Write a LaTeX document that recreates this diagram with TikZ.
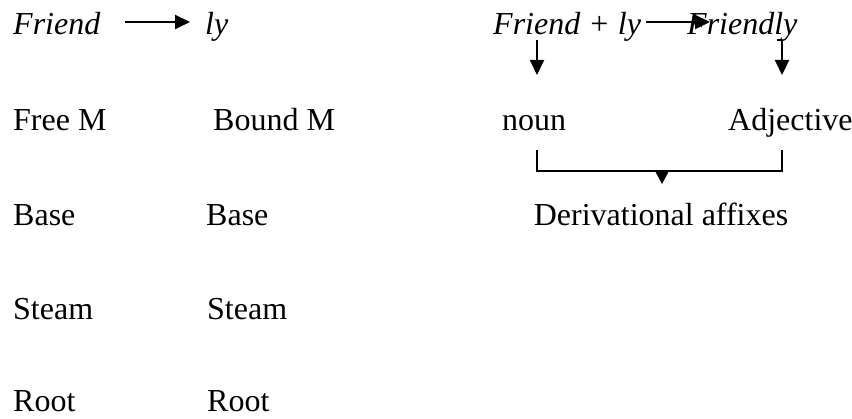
\documentclass[tikz,border=0pt]{standalone}
\usepackage{fontspec}
\setmainfont{Liberation Serif}
\usetikzlibrary{arrows.meta}
\begin{document}
\begin{tikzpicture}[x=1pt,y=-1pt,
  txt/.style={inner sep=0pt,anchor=base west,font=\fontsize{32}{38}\selectfont},
  arr/.style={line width=2pt,-{Triangle[length=15pt,width=14pt]}},
  brk/.style={line width=1.6pt}]
\useasboundingbox (0,0) rectangle (852,419);
% left block
\node[txt] (friend) at (13,35) {\itshape Friend};
\node[txt] (ly) at (205,35) {\itshape ly};
\node[txt] (freem) at (13,131) {Free M};
\node[txt] (boundm) at (213,131) {Bound M};
\node[txt] (baseA) at (13,226) {Base};
\node[txt] (baseB) at (206,226) {Base};
\node[txt] (steamA) at (13,320) {Steam};
\node[txt] (steamB) at (207,320) {Steam};
\node[txt] (rootA) at (13,412) {Root};
\node[txt] (rootB) at (207,412) {Root};
% right block
\node[txt] (fpl) at (493,35) {\itshape Friend + ly};
\node[txt] (friendly) at (687,35) {\itshape Friendly};
\node[txt] (noun) at (502,131) {noun};
\node[txt] (adj) at (728,131) {Adjective};
\node[txt,anchor=base] (deriv) at (661,226) {Derivational affixes};
% connector ends
\coordinate (frOut) at (125,22);
\coordinate (lyIn) at (190,22);
\coordinate (fplOut) at (646,22);
\coordinate (frlyIn) at (710,22);
\coordinate (nounTop) at (537,40);
\coordinate (nounIn) at (537,75);
\coordinate (adjHook) at (777,40);
\coordinate (adjTop) at (782,40);
\coordinate (adjIn) at (782,75);
\coordinate (bL) at (537,150);
\coordinate (bLb) at (537,171);
\coordinate (bR) at (782,150);
\coordinate (bRb) at (782,171);
\coordinate (bTip) at (662,184);
% connectors
\draw[arr] (frOut) -- (lyIn);
\draw[arr] (fplOut) -- (frlyIn);
\draw[arr] (nounTop) -- (nounIn);
\draw[line width=2pt] (adjHook) -- (adjTop);
\draw[arr] (adjTop) -- (adjIn);
\draw[brk] (bL) -- (bLb) -- (bRb) -- (bR);
\fill (655,171) -- (669,171) -- (bTip) -- cycle;
\end{tikzpicture}
\end{document}
